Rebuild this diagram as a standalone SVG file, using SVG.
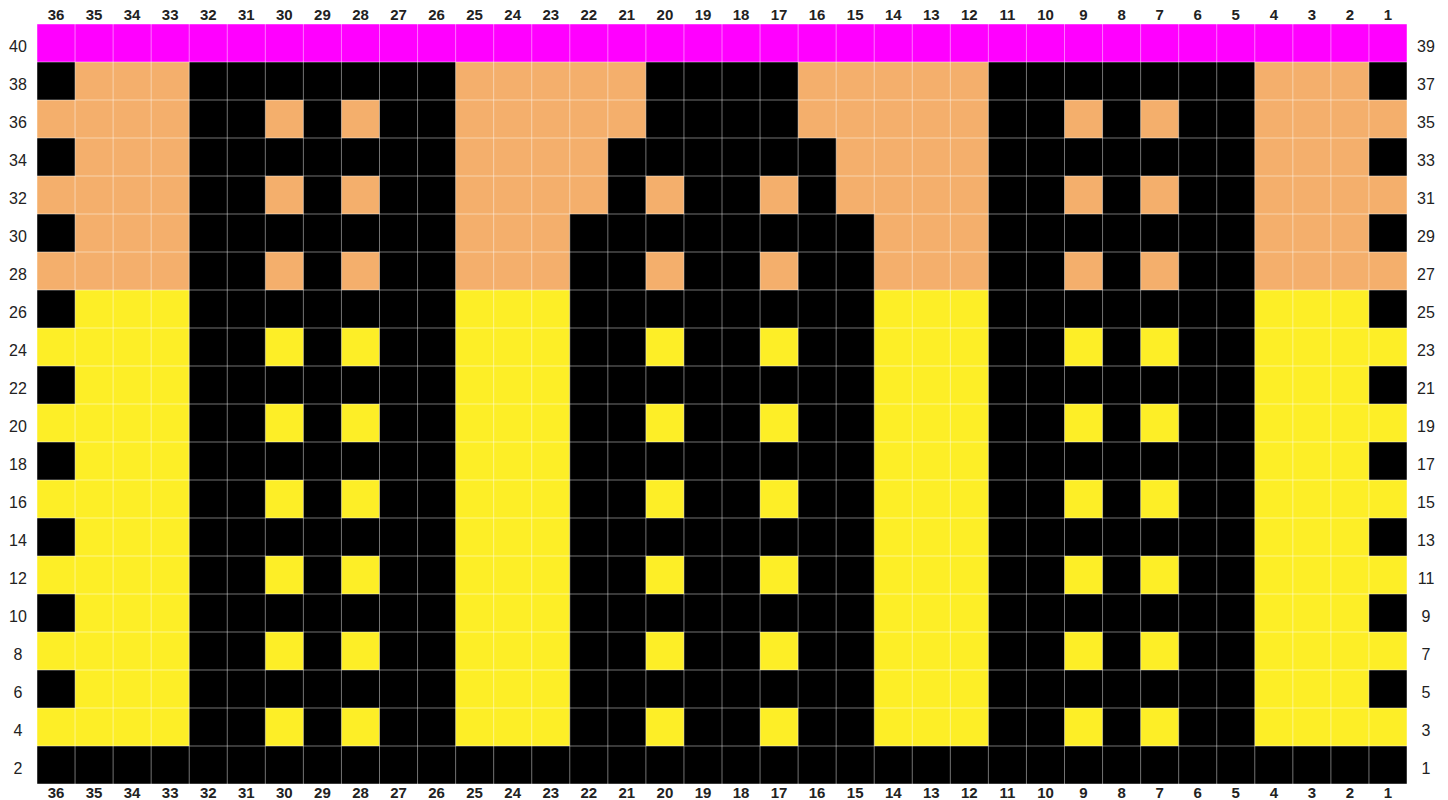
<svg xmlns="http://www.w3.org/2000/svg" width="1448" height="800" viewBox="0 0 1448 800">
<style>
.m{fill:#FF00FF}.o{fill:#F4AF6C}.y{fill:#FDEE27}.k{fill:#000}
.grid{fill:none;stroke:#fff;stroke-opacity:0.45;stroke-width:1}
.ct{font-family:"Liberation Sans",Arial,sans-serif;font-size:15px;font-weight:bold;fill:#222;text-anchor:middle}
.rt{font-family:"Liberation Sans",Arial,sans-serif;font-size:16px;fill:#222;text-anchor:middle}
</style>
<rect width="1448" height="800" fill="#fff"/>
<g id="chart" transform="translate(37,24) scale(38.0556,38)">
<rect class="m" x="0" y="0" width="36" height="1"/>
<rect class="o" x="0" y="1" width="36" height="6"/>
<rect class="y" x="0" y="7" width="36" height="12"/>
<rect class="k" x="0" y="19" width="36" height="1"/>
<rect class="k" x="4" y="1" width="7" height="18"/>
<rect class="k" x="25" y="1" width="7" height="18"/>
<rect class="k" x="16" y="1" width="4" height="2"/>
<rect class="k" x="15" y="3" width="6" height="2"/>
<rect class="k" x="14" y="5" width="8" height="14"/>
<path class="k" d="M0 1h1v1h-1zM0 3h1v1h-1zM0 5h1v1h-1zM0 7h1v1h-1zM0 9h1v1h-1zM0 11h1v1h-1zM0 13h1v1h-1zM0 15h1v1h-1zM0 17h1v1h-1zM35 1h1v1h-1zM35 3h1v1h-1zM35 5h1v1h-1zM35 7h1v1h-1zM35 9h1v1h-1zM35 11h1v1h-1zM35 13h1v1h-1zM35 15h1v1h-1zM35 17h1v1h-1z"/>
<path class="o" d="M6 2h1v1h-1zM8 2h1v1h-1zM27 2h1v1h-1zM29 2h1v1h-1zM6 4h1v1h-1zM8 4h1v1h-1zM16 4h1v1h-1zM19 4h1v1h-1zM27 4h1v1h-1zM29 4h1v1h-1zM6 6h1v1h-1zM8 6h1v1h-1zM16 6h1v1h-1zM19 6h1v1h-1zM27 6h1v1h-1zM29 6h1v1h-1z"/>
<path class="y" d="M6 8h1v1h-1zM8 8h1v1h-1zM16 8h1v1h-1zM19 8h1v1h-1zM27 8h1v1h-1zM29 8h1v1h-1zM6 10h1v1h-1zM8 10h1v1h-1zM16 10h1v1h-1zM19 10h1v1h-1zM27 10h1v1h-1zM29 10h1v1h-1zM6 12h1v1h-1zM8 12h1v1h-1zM16 12h1v1h-1zM19 12h1v1h-1zM27 12h1v1h-1zM29 12h1v1h-1zM6 14h1v1h-1zM8 14h1v1h-1zM16 14h1v1h-1zM19 14h1v1h-1zM27 14h1v1h-1zM29 14h1v1h-1zM6 16h1v1h-1zM8 16h1v1h-1zM16 16h1v1h-1zM19 16h1v1h-1zM27 16h1v1h-1zM29 16h1v1h-1zM6 18h1v1h-1zM8 18h1v1h-1zM16 18h1v1h-1zM19 18h1v1h-1zM27 18h1v1h-1zM29 18h1v1h-1z"/>
<path class="grid" vector-effect="non-scaling-stroke" d="M0 0V20M1 0V20M2 0V20M3 0V20M4 0V20M5 0V20M6 0V20M7 0V20M8 0V20M9 0V20M10 0V20M11 0V20M12 0V20M13 0V20M14 0V20M15 0V20M16 0V20M17 0V20M18 0V20M19 0V20M20 0V20M21 0V20M22 0V20M23 0V20M24 0V20M25 0V20M26 0V20M27 0V20M28 0V20M29 0V20M30 0V20M31 0V20M32 0V20M33 0V20M34 0V20M35 0V20M36 0V20M0 0H36M0 1H36M0 2H36M0 3H36M0 4H36M0 5H36M0 6H36M0 7H36M0 8H36M0 9H36M0 10H36M0 11H36M0 12H36M0 13H36M0 14H36M0 15H36M0 16H36M0 17H36M0 18H36M0 19H36M0 20H36"/>
</g>
<g id="col-labels-top" class="ct">
<text x="56.03" y="20">36</text><text x="94.08" y="20">35</text><text x="132.14" y="20">34</text><text x="170.19" y="20">33</text><text x="208.25" y="20">32</text><text x="246.31" y="20">31</text><text x="284.36" y="20">30</text><text x="322.42" y="20">29</text><text x="360.47" y="20">28</text><text x="398.53" y="20">27</text><text x="436.58" y="20">26</text><text x="474.64" y="20">25</text><text x="512.69" y="20">24</text><text x="550.75" y="20">23</text><text x="588.81" y="20">22</text><text x="626.86" y="20">21</text><text x="664.92" y="20">20</text><text x="702.97" y="20">19</text><text x="741.03" y="20">18</text><text x="779.08" y="20">17</text><text x="817.14" y="20">16</text><text x="855.19" y="20">15</text><text x="893.25" y="20">14</text><text x="931.31" y="20">13</text><text x="969.36" y="20">12</text><text x="1007.42" y="20">11</text><text x="1045.47" y="20">10</text><text x="1083.53" y="20">9</text><text x="1121.58" y="20">8</text><text x="1159.64" y="20">7</text><text x="1197.69" y="20">6</text><text x="1235.75" y="20">5</text><text x="1273.81" y="20">4</text><text x="1311.86" y="20">3</text><text x="1349.92" y="20">2</text><text x="1387.97" y="20">1</text>
</g>
<g id="col-labels-bottom" class="ct">
<text x="56.03" y="797.5">36</text><text x="94.08" y="797.5">35</text><text x="132.14" y="797.5">34</text><text x="170.19" y="797.5">33</text><text x="208.25" y="797.5">32</text><text x="246.31" y="797.5">31</text><text x="284.36" y="797.5">30</text><text x="322.42" y="797.5">29</text><text x="360.47" y="797.5">28</text><text x="398.53" y="797.5">27</text><text x="436.58" y="797.5">26</text><text x="474.64" y="797.5">25</text><text x="512.69" y="797.5">24</text><text x="550.75" y="797.5">23</text><text x="588.81" y="797.5">22</text><text x="626.86" y="797.5">21</text><text x="664.92" y="797.5">20</text><text x="702.97" y="797.5">19</text><text x="741.03" y="797.5">18</text><text x="779.08" y="797.5">17</text><text x="817.14" y="797.5">16</text><text x="855.19" y="797.5">15</text><text x="893.25" y="797.5">14</text><text x="931.31" y="797.5">13</text><text x="969.36" y="797.5">12</text><text x="1007.42" y="797.5">11</text><text x="1045.47" y="797.5">10</text><text x="1083.53" y="797.5">9</text><text x="1121.58" y="797.5">8</text><text x="1159.64" y="797.5">7</text><text x="1197.69" y="797.5">6</text><text x="1235.75" y="797.5">5</text><text x="1273.81" y="797.5">4</text><text x="1311.86" y="797.5">3</text><text x="1349.92" y="797.5">2</text><text x="1387.97" y="797.5">1</text>
</g>
<g id="row-labels-left" class="rt">
<text x="18" y="51.5">40</text><text x="18" y="89.5">38</text><text x="18" y="127.5">36</text><text x="18" y="165.5">34</text><text x="18" y="203.5">32</text><text x="18" y="241.5">30</text><text x="18" y="279.5">28</text><text x="18" y="317.5">26</text><text x="18" y="355.5">24</text><text x="18" y="393.5">22</text><text x="18" y="431.5">20</text><text x="18" y="469.5">18</text><text x="18" y="507.5">16</text><text x="18" y="545.5">14</text><text x="18" y="583.5">12</text><text x="18" y="621.5">10</text><text x="18" y="659.5">8</text><text x="18" y="697.5">6</text><text x="18" y="735.5">4</text><text x="18" y="773.5">2</text>
</g>
<g id="row-labels-right" class="rt">
<text x="1426" y="51.5">39</text><text x="1426" y="89.5">37</text><text x="1426" y="127.5">35</text><text x="1426" y="165.5">33</text><text x="1426" y="203.5">31</text><text x="1426" y="241.5">29</text><text x="1426" y="279.5">27</text><text x="1426" y="317.5">25</text><text x="1426" y="355.5">23</text><text x="1426" y="393.5">21</text><text x="1426" y="431.5">19</text><text x="1426" y="469.5">17</text><text x="1426" y="507.5">15</text><text x="1426" y="545.5">13</text><text x="1426" y="583.5">11</text><text x="1426" y="621.5">9</text><text x="1426" y="659.5">7</text><text x="1426" y="697.5">5</text><text x="1426" y="735.5">3</text><text x="1426" y="773.5">1</text>
</g>
</svg>
